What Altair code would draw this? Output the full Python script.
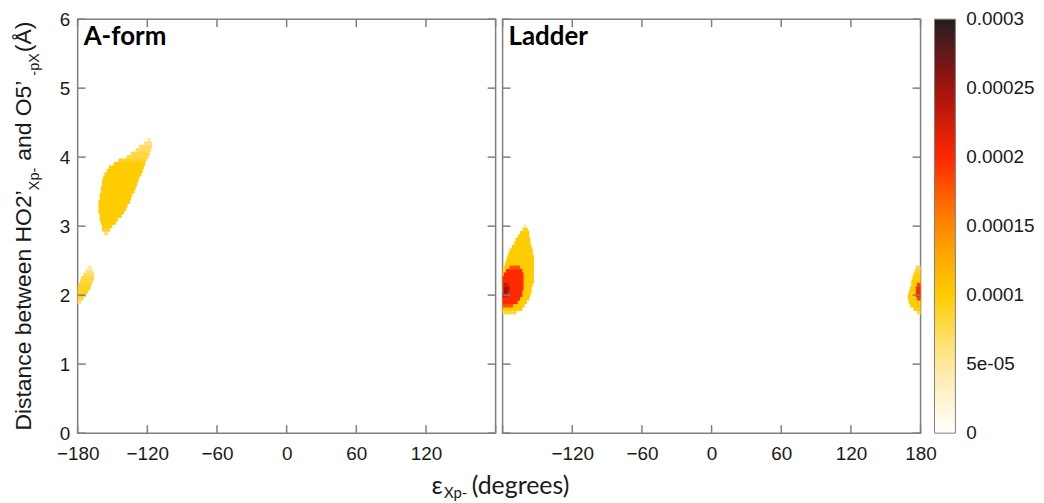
import json
import altair as alt
import pandas as pd

# ---------------- data ----------------
X_TICKS = [-180, -120, -60, 0, 60, 120, 180]
Y_TICKS = [0, 1, 2, 3, 4, 5, 6]
LEFT_X_LABELS = [-180, -120, -60, 0, 60, 120]
RIGHT_X_LABELS = [-120, -60, 0, 60, 120, 180]
PANEL_TITLES = ["A-form", "Ladder"]

CBAR_VALUES = [0, 0.00005, 0.0001, 0.00015, 0.0002, 0.00025, 0.0003]
CBAR_LABELS = ["0", "5e-05", "0.0001", "0.00015", "0.0002", "0.00025", "0.0003"]
CBAR_COLORS = ["#FFFFFF", "#FFE9A0", "#FFCC00", "#FF8A00", "#FF2800", "#A3120E", "#231F20"]
CBAR_TICKS = [0.00005, 0.0001, 0.00015, 0.0002, 0.00025]

# A-form: main population (row centre distance in Å, epsilon start, epsilon end, density)
AF_MAIN_Y = [2.90, 2.95, 3.00, 3.05, 3.10, 3.15, 3.20, 3.25, 3.30, 3.35, 3.40, 3.45, 3.50, 3.55,
             3.60, 3.65, 3.70, 3.75, 3.80, 3.85, 3.90, 3.95, 4.00, 4.05, 4.10, 4.15, 4.20, 4.25]
AF_MAIN_X0 = [-157, -159, -159, -160, -161, -161, -162, -162, -162, -162, -161, -161, -160, -160,
              -159, -159, -158, -157, -155, -153, -149, -145, -138, -134, -130, -127, -123, -120]
AF_MAIN_X1 = [-154, -152, -150, -147, -145, -142, -140, -138, -137, -135, -134, -133, -131, -130,
              -129, -128, -127, -125, -124, -123, -122, -121, -119, -118, -117, -116, -116, -117]
AF_MAIN_V = [0.00007, 0.00009, 0.0001, 0.0001, 0.0001, 0.0001, 0.0001, 0.0001, 0.0001, 0.0001,
             0.0001, 0.0001, 0.0001, 0.0001, 0.0001, 0.0001, 0.0001, 0.0001, 0.0001, 0.0001,
             0.0001, 0.00009, 0.00008, 0.00008, 0.00007, 0.00007, 0.00006, 0.00005]

# A-form: small population near -180
AF_SMALL_Y = [1.90, 1.95, 2.00, 2.05, 2.10, 2.15, 2.20, 2.25, 2.30, 2.35, 2.40]
AF_SMALL_X0 = [-180, -180, -180, -180, -180, -179, -178, -177, -175, -173, -171]
AF_SMALL_X1 = [-177, -175, -173, -171, -169, -168, -167, -166, -166, -167, -168]
AF_SMALL_V = [0.00006, 0.00008, 0.00009, 0.00009, 0.00009, 0.00009, 0.00008, 0.00008,
              0.00007, 0.00006, 0.00005]

# Ladder: population near -180 (outer)
LD_OUT_Y = [1.75, 1.80, 1.85, 1.90, 1.95, 2.00, 2.05, 2.10, 2.15, 2.20, 2.25, 2.30, 2.35,
            2.40, 2.45, 2.50, 2.55, 2.60, 2.65, 2.70, 2.75, 2.80, 2.85, 2.90, 2.95, 3.00]
LD_OUT_X0 = [-180, -180, -180, -180, -180, -180, -180, -180, -180, -180, -180, -180, -180,
             -179, -178, -177, -176, -175, -174, -172, -170, -169, -167, -165, -163, -161]
LD_OUT_X1 = [-168, -163, -161, -159, -157, -156, -155, -155, -154, -153, -153, -153, -153,
             -153, -153, -153, -153, -154, -154, -155, -156, -156, -157, -157, -158, -160]
LD_OUT_V = [0.00008, 0.0001, 0.0001, 0.0001, 0.0001, 0.0001, 0.0001, 0.0001, 0.0001, 0.0001,
            0.0001, 0.0001, 0.0001, 0.0001, 0.0001, 0.0001, 0.0001, 0.0001, 0.0001, 0.0001,
            0.0001, 0.0001, 0.0001, 0.0001, 0.00009, 0.00008]

# Ladder: population near -180 (inner, red)
LD_IN_Y = [1.85, 1.90, 1.95, 2.00, 2.05, 2.10, 2.15, 2.20, 2.25, 2.30, 2.35, 2.40]
LD_IN_X0 = [-180, -180, -180, -180, -180, -180, -180, -180, -180, -179, -177, -174]
LD_IN_X1 = [-171, -167, -165, -163, -163, -162, -162, -162, -162, -162, -163, -165]
LD_IN_V = [0.00018, 0.0002, 0.0002, 0.0002, 0.0002, 0.0002, 0.0002, 0.0002, 0.0002,
           0.0002, 0.0002, 0.00018]

# Ladder: densest core
LD_CORE_Y = [2.00, 2.05, 2.10, 2.15]
LD_CORE_X0 = [-180, -179, -179, -179]
LD_CORE_X1 = [-176, -175, -174, -175]
LD_CORE_V = [0.00023, 0.00025, 0.00025, 0.00023]

# Ladder: population near +180 (outer)
LD_R_OUT_Y = [1.75, 1.80, 1.85, 1.90, 1.95, 2.00, 2.05, 2.10, 2.15, 2.20, 2.25, 2.30, 2.35, 2.40]
LD_R_OUT_X0 = [177, 174, 171, 170, 169, 169, 170, 171, 172, 172, 173, 174, 175, 176]
LD_R_OUT_X1 = [180, 180, 180, 180, 180, 180, 180, 180, 180, 180, 180, 180, 180, 180]
LD_R_OUT_V = [0.00008, 0.0001, 0.0001, 0.0001, 0.0001, 0.0001, 0.0001, 0.0001, 0.0001,
              0.0001, 0.0001, 0.0001, 0.00009, 0.00008]

# Ladder: population near +180 (inner)
LD_R_IN_Y = [1.95, 2.00, 2.05, 2.10, 2.15]
LD_R_IN_X0 = [177, 176, 176, 176, 177]
LD_R_IN_X1 = [180, 180, 180, 180, 180]
LD_R_IN_V = [0.00019, 0.0002, 0.0002, 0.0002, 0.00019]

# ---------------- styling ----------------
W, H = 420, 416
STEP = 0.05
FONT = "Liberation Sans"
TFONT = "Lato"
TXT = "#1a1a1a"
FRAME = "#7f7f7f"
TICK_LEN = 8
CB_X = W + 14            # colour bar left edge, relative to the right panel
CB_W = 21

# Arial / Liberation Sans advance widths (per 1000 em) for the y title
AW = {"D": 722, "i": 222, "s": 500, "t": 278, "a": 556, "n": 556, "c": 500, "e": 556,
      " ": 278, "b": 556, "w": 722, "H": 722, "O": 778, "2": 556, "\u2019": 222,
      "X": 667, "p": 556, "-": 333, "d": 556, "5": 556, "(": 333, "\u00c5": 667, ")": 333}

YT_SIZE, YT_SUB = 23, 14.5
YT_BASE = -46.5          # baseline position relative to panel left edge
YT_SUB_SHIFT = 8
# (text, is_subscript, gap before it in px)
YTITLE_PARTS = [("Distance between HO2\u2019", False, 0), ("Xp-", True, 0),
                ("and O5\u2019", False, 7), ("-pX", True, 5), ("(\u00c5)", False, 1)]


def blob(panel, ys, x0s, x1s, vs):
    return pd.DataFrame({
        "panel": panel,
        "y0": [y - STEP / 2 - 0.004 for y in ys],
        "y1": [y + STEP / 2 + 0.004 for y in ys],
        "x0": x0s, "x1": x1s, "v": vs})


left_df = pd.concat([
    blob("A-form", AF_MAIN_Y, AF_MAIN_X0, AF_MAIN_X1, AF_MAIN_V),
    blob("A-form", AF_SMALL_Y, AF_SMALL_X0, AF_SMALL_X1, AF_SMALL_V),
], ignore_index=True)
right_df = pd.concat([
    blob("Ladder", LD_OUT_Y, LD_OUT_X0, LD_OUT_X1, LD_OUT_V),
    blob("Ladder", LD_R_OUT_Y, LD_R_OUT_X0, LD_R_OUT_X1, LD_R_OUT_V),
    blob("Ladder", LD_IN_Y, LD_IN_X0, LD_IN_X1, LD_IN_V),
    blob("Ladder", LD_R_IN_Y, LD_R_IN_X0, LD_R_IN_X1, LD_R_IN_V),
    blob("Ladder", LD_CORE_Y, LD_CORE_X0, LD_CORE_X1, LD_CORE_V),
], ignore_index=True)

xscale = alt.Scale(domain=[-180, 180], nice=False, zero=False)
yscale = alt.Scale(domain=[0, 6], nice=False, zero=False)
cscale = alt.Scale(domain=CBAR_VALUES, range=CBAR_COLORS, interpolate="rgb")
cbar_y = alt.Scale(domain=[CBAR_VALUES[0], CBAR_VALUES[-1]], nice=False, zero=False)

# gradient colour bar (labels drawn separately so that they sit centred on their values)
legend = alt.Legend(
    type="gradient", direction="vertical", orient="none", legendX=W * 2 + 7 + 14, legendY=0,
    padding=0, title=None, values=CBAR_VALUES, labelExpr="''", labelOpacity=0,
    gradientLength=H, gradientThickness=CB_W,
    gradientStrokeColor=FRAME, gradientStrokeWidth=1,
    labelFont=FONT, labelFontSize=1, labelOffset=0, labelOverlap=False)

xt_df = pd.DataFrame({"t": X_TICKS})
yt_df = pd.DataFrame({"t": Y_TICKS})
cb_df = pd.DataFrame({"v": CBAR_VALUES, "label": CBAR_LABELS})
cbt_df = pd.DataFrame({"v": CBAR_TICKS})


def text_width(s, size):
    return sum(AW.get(ch, 556) for ch in s) / 1000 * size


def panel(df, title, xlabels, show_y, extras):
    xaxis = alt.Axis(values=xlabels, title=None, ticks=False, domain=False, grid=False,
                     labelFont=FONT, labelFontSize=19, labelColor=TXT, labelPadding=11,
                     labelFlush=False, labelOverlap=False, format="d")
    if show_y:
        yaxis = alt.Axis(values=Y_TICKS, title=None, ticks=False, domain=False, grid=False,
                         labelFont=FONT, labelFontSize=19, labelColor=TXT, labelPadding=8,
                         labelFlush=False, labelOverlap=False, format="d")
    else:
        yaxis = None
    heat = alt.Chart(df).mark_rect(strokeWidth=0).encode(
        x=alt.X("x0:Q", scale=xscale, axis=xaxis),
        x2="x1:Q",
        y=alt.Y("y0:Q", scale=yscale, axis=yaxis),
        y2="y1:Q",
        color=alt.Color("v:Q", scale=cscale, legend=legend),
    )
    tick_style = dict(color=FRAME, strokeWidth=1.5)
    xt = alt.X("t:Q", scale=xscale, axis=xaxis)
    yt = alt.Y("t:Q", scale=yscale, axis=yaxis)
    bottom = alt.Chart(xt_df).mark_rule(**tick_style).encode(
        x=xt, y=alt.value(H), y2=alt.value(H - TICK_LEN))
    top = alt.Chart(xt_df).mark_rule(**tick_style).encode(
        x=xt, y=alt.value(0), y2=alt.value(TICK_LEN))
    leftt = alt.Chart(yt_df).mark_rule(**tick_style).encode(
        y=yt, x=alt.value(0), x2=alt.value(TICK_LEN))
    rightt = alt.Chart(yt_df).mark_rule(**tick_style).encode(
        y=yt, x=alt.value(W), x2=alt.value(W - TICK_LEN))
    ttl = alt.Chart(pd.DataFrame({"t": [title]})).mark_text(
        font=TFONT, fontSize=26, fontWeight="bold", color="#000000",
        align="left", baseline="alphabetic").encode(
        text="t:N", x=alt.value(6), y=alt.value(26))
    return alt.layer(heat, bottom, top, leftt, rightt, ttl, *extras).properties(width=W, height=H)


# y-axis title built from segments (with subscripts)
ytitle = []
total = sum(text_width(t, YT_SUB if sub else YT_SIZE) + gap for t, sub, gap in YTITLE_PARTS)
pos = H / 2 + total / 2
for t, sub, gap in YTITLE_PARTS:
    fs = YT_SUB if sub else YT_SIZE
    pos -= gap
    ytitle.append(alt.Chart(pd.DataFrame({"t": [t]})).mark_text(
        font=FONT, fontSize=fs, color=TXT, angle=270, align="left", baseline="alphabetic"
    ).encode(text="t:N", x=alt.value(YT_BASE + (YT_SUB_SHIFT if sub else 0)), y=alt.value(pos)))
    pos -= text_width(t, fs)

# x-axis title (spanning both panels)
XT_X = 367
XT_Y = H + 61
xtitle = [
    alt.Chart(pd.DataFrame({"t": ["\u03b5"]})).mark_text(
        font=TFONT, fontSize=25, color=TXT, align="right", baseline="alphabetic"
    ).encode(text="t:N", x=alt.value(XT_X), y=alt.value(XT_Y)),
    alt.Chart(pd.DataFrame({"t": ["Xp-"]})).mark_text(
        font=TFONT, fontSize=15, color=TXT, align="left", baseline="alphabetic"
    ).encode(text="t:N", x=alt.value(XT_X + 1), y=alt.value(XT_Y + 4)),
    alt.Chart(pd.DataFrame({"t": ["(degrees)"]})).mark_text(
        font=TFONT, fontSize=25, color=TXT, align="left", baseline="alphabetic"
    ).encode(text="t:N", x=alt.value(XT_X + 29), y=alt.value(XT_Y)),
]

# colour-bar labels and dashes, positioned with a scale over the density range
cb_labels = alt.Chart(cb_df).mark_text(
    font=FONT, fontSize=19, color=TXT, align="left", baseline="middle").encode(
    y=alt.Y("v:Q", scale=cbar_y, axis=None), x=alt.value(CB_X + CB_W + 11), text="label:N")
cb_dash_l = alt.Chart(cbt_df).mark_rule(color="#000000", opacity=0.55, strokeWidth=1.2).encode(
    y=alt.Y("v:Q", scale=cbar_y, axis=None), x=alt.value(CB_X + 1), x2=alt.value(CB_X + 6))
cb_dash_r = alt.Chart(cbt_df).mark_rule(color="#000000", opacity=0.55, strokeWidth=1.2).encode(
    y=alt.Y("v:Q", scale=cbar_y, axis=None), x=alt.value(CB_X + CB_W - 6), x2=alt.value(CB_X + CB_W - 1))

left = panel(left_df, PANEL_TITLES[0], LEFT_X_LABELS, True, ytitle + xtitle)
right = panel(right_df, PANEL_TITLES[1], RIGHT_X_LABELS, False,
              [cb_dash_l, cb_dash_r, cb_labels]).resolve_scale(y="independent")

chart = alt.hconcat(left, right, spacing=7, bounds="flush").properties(
    padding={"left": 4, "top": 0, "right": 0, "bottom": 0}
).configure_view(stroke=FRAME, strokeWidth=1.5)

chart.save("out.html", embed_options={"renderer": "svg", "actions": False})
